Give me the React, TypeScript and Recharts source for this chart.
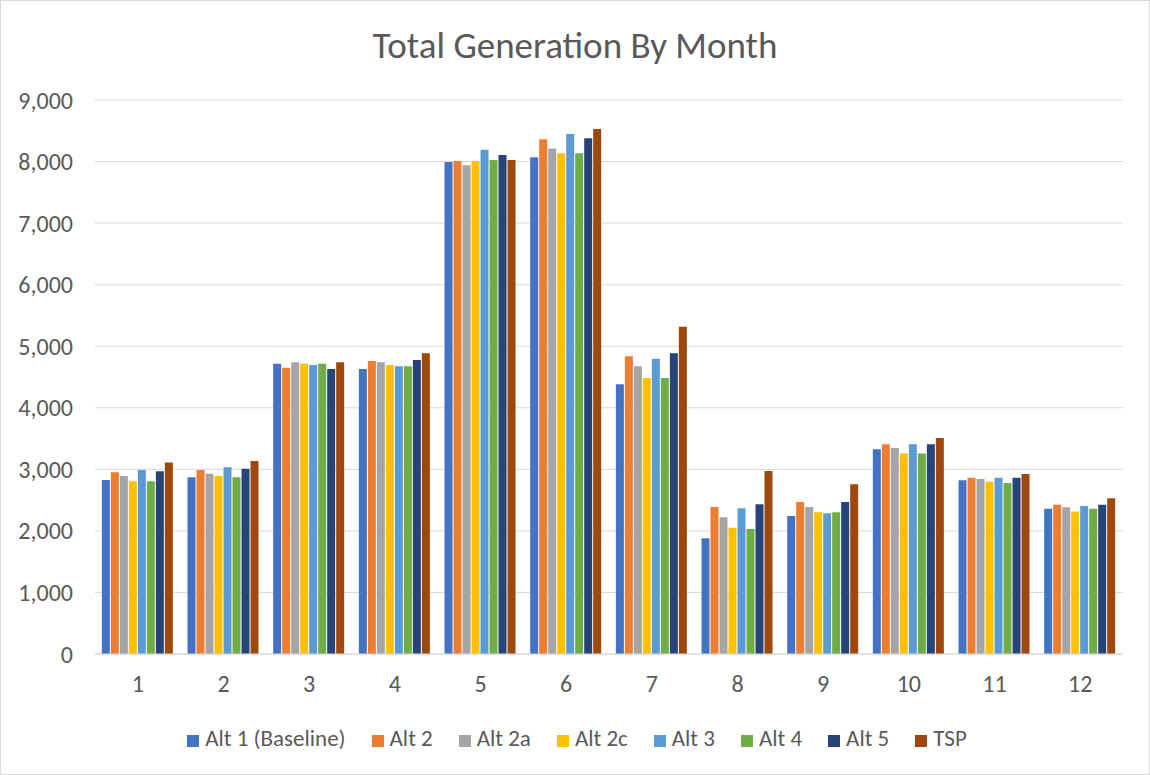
import { Bar, BarChart, CartesianGrid, Legend, XAxis, YAxis } from "recharts";

const months = ["1", "2", "3", "4", "5", "6", "7", "8", "9", "10", "11", "12"];

const alt1 = [2827, 2870, 4717, 4630, 7992, 8068, 4381, 1879, 2242, 3325, 2821, 2360];
const alt2 = [2951, 2989, 4651, 4760, 8008, 8361, 4836, 2388, 2469, 3406, 2864, 2426];
const alt2a = [2891, 2929, 4738, 4738, 7938, 8214, 4673, 2220, 2388, 3346, 2843, 2383];
const alt2c = [2805, 2891, 4717, 4695, 8008, 8133, 4483, 2053, 2301, 3259, 2800, 2317];
const alt3 = [2989, 3032, 4695, 4673, 8192, 8447, 4798, 2366, 2285, 3406, 2864, 2404];
const alt4 = [2805, 2870, 4717, 4673, 8025, 8133, 4483, 2031, 2301, 3259, 2778, 2360];
const alt5 = [2967, 3011, 4630, 4776, 8106, 8377, 4885, 2432, 2469, 3406, 2864, 2426];
const tsp = [3113, 3135, 4738, 4885, 8025, 8528, 5317, 2973, 2756, 3509, 2924, 2529];

const yTicks = [0, 1000, 2000, 3000, 4000, 5000, 6000, 7000, 8000, 9000];

const series = [
  { key: "alt1", name: "Alt 1 (Baseline)", color: "#4472c4", values: alt1 },
  { key: "alt2", name: "Alt 2", color: "#ed7d31", values: alt2 },
  { key: "alt2a", name: "Alt 2a", color: "#a5a5a5", values: alt2a },
  { key: "alt2c", name: "Alt 2c", color: "#ffc000", values: alt2c },
  { key: "alt3", name: "Alt 3", color: "#5b9bd5", values: alt3 },
  { key: "alt4", name: "Alt 4", color: "#70ad47", values: alt4 },
  { key: "alt5", name: "Alt 5", color: "#264478", values: alt5 },
  { key: "tsp", name: "TSP", color: "#9e480e", values: tsp }
];

const rows = months.map((month, i) => ({
  month,
  ...Object.fromEntries(series.map((s) => [s.key, s.values[i]]))
}));

const font = "Carlito, Calibri, Lato, sans-serif";
const textColor = "#595959";

export default function App() {
  return (
    <div
      style={{
        position: "fixed",
        left: 0,
        top: 0,
        width: 1148,
        height: 773,
        border: "1px solid #d9d9d9",
        background: "#fff",
        fontFamily: font
      }}
    >
      <div
        style={{
          position: "absolute",
          top: 23,
          left: 0,
          width: "100%",
          textAlign: "center",
          fontSize: 37,
          lineHeight: "44px",
          color: textColor
        }}
      >
        Total Generation By Month
      </div>
      <BarChart
        width={1148}
        height={773}
        data={rows}
        margin={{ top: 99, right: 26, left: 0, bottom: 10 }}
        barCategoryGap="8%"
        barGap={1}
      >
        <CartesianGrid stroke="#d9d9d9" vertical={false} />
        <XAxis
          dataKey="month"
          axisLine={{ stroke: "#d9d9d9" }}
          tickLine={false}
          tickSize={0}
          tickMargin={21}
          height={70}
          tick={{ fill: textColor, fontSize: 24, fontFamily: font }}
        />
        <YAxis
          domain={[0, 9000]}
          ticks={yTicks}
          axisLine={false}
          tickLine={false}
          tickSize={0}
          tickMargin={22}
          width={94}
          tick={{ fill: textColor, fontSize: 24, fontFamily: font }}
          tickFormatter={(v) => Number(v).toLocaleString("en-US")}
        />
        <Legend
          verticalAlign="bottom"
          height={40}
          iconType="square"
          iconSize={12}
          wrapperStyle={{ fontSize: 23, fontFamily: font, color: textColor, paddingLeft: 28 }}
          formatter={(value) => (
            <span style={{ color: textColor, marginLeft: 2, marginRight: 16 }}>{value}</span>
          )}
        />
        {series.map((s) => (
          <Bar key={s.key} dataKey={s.key} name={s.name} fill={s.color} isAnimationActive={false} />
        ))}
      </BarChart>
    </div>
  );
}
